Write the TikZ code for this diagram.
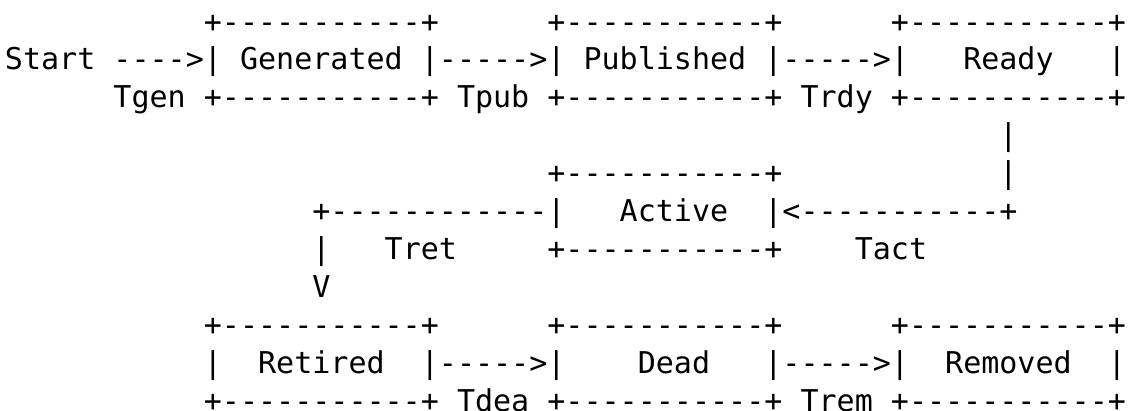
\documentclass[tikz,border=0pt]{standalone}
\usepackage{fontspec}
\setmonofont{DejaVu Sans Mono}
% one character cell: 18.08pt wide, 37.9pt high; column 0 starts at x=5pt
\tikzset{
  ascii/.style={font=\ttfamily\fontsize{30.03pt}{38pt}\selectfont,
    anchor=base west, inner sep=0pt, outer sep=0pt, text=black},
}
% \chunk{name}{column}{row}{text}
\newcommand\chunk[4]{\node[ascii] (#1) at ({5pt+#2*18.08pt},{377.9pt-#3*37.9pt}) {#4};}
\begin{document}
\begin{tikzpicture}
\fill[white] (0pt,0pt) rectangle (1131pt,410pt);
\useasboundingbox (0pt,0pt) rectangle (1131pt,410pt);
% top row of states
\chunk{genTop}{11}{0}{+-----------+}
\chunk{pubTop}{30}{0}{+-----------+}
\chunk{rdyTop}{49}{0}{+-----------+}
\chunk{start}{0}{1}{Start}
\chunk{toGen}{6}{1}{---->|}
\chunk{gen}{13}{1}{Generated}
\chunk{toPub}{23}{1}{|----->|}
\chunk{pub}{32}{1}{Published}
\chunk{toRdy}{42}{1}{|----->|}
\chunk{rdy}{53}{1}{Ready}
\chunk{rdyRight}{61}{1}{|}
\chunk{tgen}{6}{2}{Tgen}
\chunk{genBot}{11}{2}{+-----------+}
\chunk{tpub}{25}{2}{Tpub}
\chunk{pubBot}{30}{2}{+-----------+}
\chunk{trdy}{44}{2}{Trdy}
\chunk{rdyBot}{49}{2}{+-----------+}
% Ready -> Active -> Retired
\chunk{downA}{55}{3}{|}
\chunk{actTop}{30}{4}{+-----------+}
\chunk{downB}{55}{4}{|}
\chunk{toRet}{17}{5}{+------------|}
\chunk{act}{34}{5}{Active}
\chunk{toAct}{42}{5}{|<-----------+}
\chunk{downC}{17}{6}{|}
\chunk{tret}{21}{6}{Tret}
\chunk{actBot}{30}{6}{+-----------+}
\chunk{tact}{47}{6}{Tact}
\chunk{arrowV}{17}{7}{V}
% bottom row of states
\chunk{retTop}{11}{8}{+-----------+}
\chunk{deaTop}{30}{8}{+-----------+}
\chunk{remTop}{49}{8}{+-----------+}
\chunk{retLeft}{11}{9}{|}
\chunk{ret}{14}{9}{Retired}
\chunk{toDea}{23}{9}{|----->|}
\chunk{dea}{35}{9}{Dead}
\chunk{toRem}{42}{9}{|----->|}
\chunk{rem}{52}{9}{Removed}
\chunk{remRight}{61}{9}{|}
\chunk{retBot}{11}{10}{+-----------+}
\chunk{tdea}{25}{10}{Tdea}
\chunk{deaBot}{30}{10}{+-----------+}
\chunk{trem}{44}{10}{Trem}
\chunk{remBot}{49}{10}{+-----------+}
\end{tikzpicture}
\end{document}
